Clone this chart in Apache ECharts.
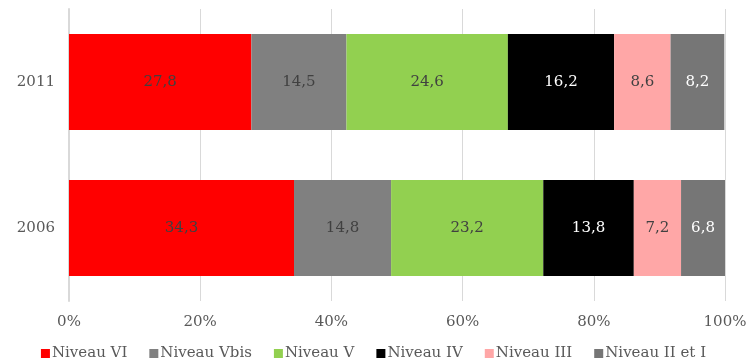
<!DOCTYPE html>
<html>
<head>
<meta charset="utf-8">
<script src="https://cdn.jsdelivr.net/npm/echarts@6/dist/echarts.min.js"></script>
<style>
  html, body { margin: 0; padding: 0; background: #fff; }
  #chart { width: 747px; height: 358px; }
</style>
</head>
<body>
<div id="chart"></div>
<script>
// annees, de bas en haut
var years = ['2006', '2011'];
var seriesNames = ['Niveau VI', 'Niveau Vbis', 'Niveau V', 'Niveau IV', 'Niveau III', 'Niveau II et I'];
var colors = ['#ff0000', '#808080', '#92d050', '#000000', '#ffa7a7', '#767676'];
var labelColors = ['#404040', '#404040', '#404040', '#ffffff', '#404040', '#ffffff'];

var niveauVI = [34.3, 27.8];
var niveauVbis = [14.8, 14.5];
var niveauV = [23.2, 24.6];
var niveauIV = [13.8, 16.2];
var niveauIII = [7.2, 8.6];
var niveauIIetI = [6.8, 8.2];
var values = [niveauVI, niveauVbis, niveauV, niveauIV, niveauIII, niveauIIetI];

var xTicks = [0, 20, 40, 60, 80, 100];

var font = 'DejaVu Serif';

var series = [];
for (var i = 0; i < seriesNames.length; i++) {
  series.push({
    name: seriesNames[i],
    type: 'bar',
    stack: 'total',
    barWidth: 96,
    itemStyle: { color: colors[i] },
    label: {
      show: true,
      position: 'inside',
      color: labelColors[i],
      fontFamily: font,
      fontSize: 15,
      formatter: function (p) { return String(p.value).replace('.', ','); }
    },
    data: values[i]
  });
}

var option = {
  backgroundColor: '#fff',
  animation: false,
  grid: { left: 69, right: 22, top: 9, bottom: 57, outerBoundsMode: 'none' },
  legend: {
    top: 346,
    left: 'center',
    padding: 0,
    itemWidth: 9,
    itemHeight: 9,
    itemGap: 22,
    icon: 'rect',
    textStyle: { fontFamily: font, fontSize: 15, color: '#595959', padding: [0, 0, 0, -3] },
    data: seriesNames
  },
  xAxis: {
    type: 'value',
    min: 0,
    max: 100,
    interval: 20,
    axisLine: { show: false },
    axisTick: { show: false },
    splitLine: { show: true, lineStyle: { color: '#d9d9d9', width: 1 } },
    axisLabel: {
      fontFamily: font,
      fontSize: 15,
      color: '#595959',
      margin: 14,
      formatter: function (v) { return xTicks.indexOf(v) >= 0 ? v + '%' : ''; }
    }
  },
  yAxis: {
    type: 'category',
    data: years,
    axisLine: { show: true, lineStyle: { color: '#d9d9d9', width: 2 } },
    axisTick: { show: false },
    axisLabel: { fontFamily: font, fontSize: 15, color: '#595959', margin: 14 }
  },
  series: series
};

var myChart = echarts.init(document.getElementById('chart'));
myChart.setOption(option);
</script>
</body>
</html>
